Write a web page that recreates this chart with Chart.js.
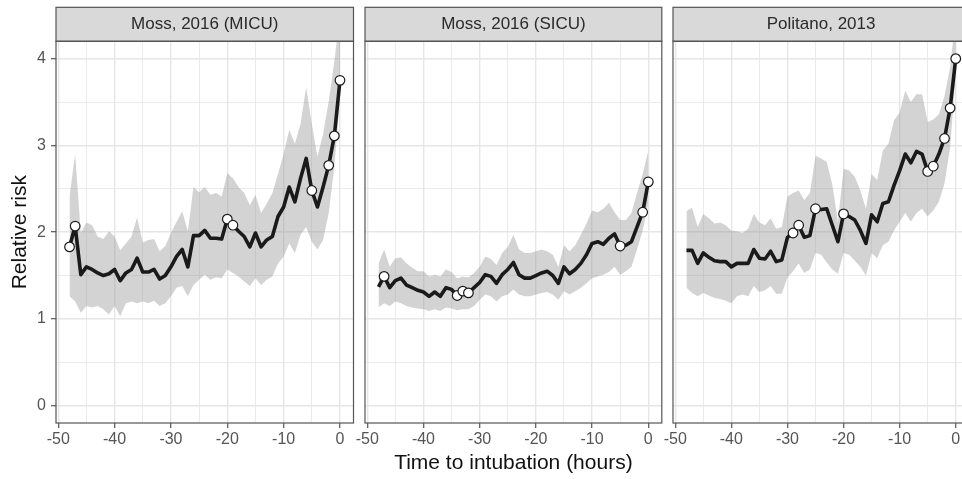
<!DOCTYPE html>
<html><head><meta charset="utf-8">
<script src="https://cdn.jsdelivr.net/npm/chart.js@4.4.1/dist/chart.umd.min.js"></script>
<style>
html,body{margin:0;padding:0;background:#fff;overflow:hidden;width:962px;height:479px;position:relative}
canvas.c{position:absolute;left:0;top:0;pointer-events:none}
</style></head><body>
<canvas id="c1" class="c" width="1000" height="479"></canvas>
<canvas id="c2" class="c" width="1000" height="479"></canvas>
<canvas id="c3" class="c" width="1000" height="479"></canvas>
<script>
// ---------- data ----------
const hours = [-48,-47,-46,-45,-44,-43,-42,-41,-40,-39,-38,-37,-36,-35,-34,-33,-32,-31,-30,-29,-28,-27,-26,-25,-24,-23,-22,-21,-20,-19,-18,-17,-16,-15,-14,-13,-12,-11,-10,-9,-8,-7,-6,-5,-4,-3,-2,-1,0];

const micuRR = [1.83,2.07,1.51,1.60,1.57,1.53,1.50,1.52,1.57,1.44,1.53,1.57,1.70,1.54,1.54,1.57,1.46,1.50,1.60,1.72,1.80,1.60,1.96,1.96,2.02,1.93,1.93,1.92,2.15,2.08,2.01,1.95,1.83,1.99,1.83,1.91,1.95,2.18,2.29,2.52,2.35,2.62,2.85,2.48,2.29,2.52,2.77,3.11,3.75];
const micuLo = [1.26,1.20,1.07,1.15,1.13,1.15,1.11,1.05,1.15,1.03,1.18,1.20,1.18,1.20,1.18,1.21,1.15,1.18,1.26,1.36,1.38,1.26,1.39,1.45,1.51,1.45,1.48,1.47,1.57,1.53,1.49,1.43,1.38,1.47,1.39,1.45,1.49,1.64,1.72,1.87,1.76,1.97,2.06,1.89,1.80,1.91,2.22,2.75,3.55];
const micuHi = [2.41,2.90,1.99,2.11,2.08,1.95,1.92,2.01,1.95,1.79,1.87,1.95,2.17,1.88,1.91,1.92,1.78,1.84,1.99,2.12,2.24,2.01,2.52,2.46,2.52,2.43,2.45,2.41,2.68,2.62,2.52,2.45,2.31,2.43,2.22,2.33,2.45,2.67,2.90,3.18,3.02,3.25,3.67,3.25,2.87,3.13,3.51,3.97,4.50];
const micuMarked = [-48,-47,-20,-19,-5,-2,-1,0];

const sicuRR = [1.37,1.49,1.36,1.44,1.47,1.39,1.36,1.33,1.31,1.26,1.31,1.26,1.36,1.34,1.27,1.32,1.30,1.36,1.42,1.51,1.49,1.41,1.51,1.57,1.65,1.51,1.47,1.47,1.50,1.53,1.55,1.50,1.41,1.60,1.52,1.57,1.64,1.74,1.87,1.89,1.86,1.93,1.98,1.84,1.85,1.89,2.06,2.23,2.58];
const sicuLo = [1.13,1.18,1.15,1.20,1.18,1.15,1.13,1.12,1.11,1.09,1.11,1.09,1.13,1.12,1.10,1.11,1.11,1.15,1.22,1.28,1.26,1.20,1.26,1.28,1.34,1.28,1.26,1.26,1.28,1.30,1.31,1.28,1.22,1.32,1.28,1.32,1.36,1.41,1.47,1.49,1.51,1.54,1.60,1.51,1.55,1.60,1.80,2.02,2.33];
const sicuHi = [1.64,1.80,1.60,1.70,1.71,1.64,1.59,1.55,1.55,1.49,1.51,1.49,1.57,1.54,1.47,1.49,1.48,1.53,1.60,1.72,1.69,1.62,1.76,1.83,1.97,1.80,1.76,1.76,1.78,1.80,1.78,1.74,1.60,1.85,1.78,1.85,1.97,2.10,2.25,2.23,2.27,2.34,2.23,2.14,2.14,2.22,2.45,2.67,2.94];
const sicuMarked = [-47,-34,-33,-32,-5,-1,0];

const politRR = [1.79,1.79,1.64,1.76,1.71,1.67,1.66,1.66,1.60,1.64,1.64,1.64,1.80,1.70,1.69,1.78,1.66,1.68,1.94,1.99,2.08,1.94,1.96,2.27,2.26,2.27,2.08,1.89,2.21,2.18,2.14,2.02,1.87,2.20,2.12,2.33,2.35,2.54,2.71,2.90,2.80,2.93,2.90,2.70,2.76,2.90,3.08,3.43,4.00];
const politLo = [1.36,1.30,1.26,1.30,1.27,1.24,1.23,1.21,1.18,1.26,1.28,1.26,1.38,1.31,1.33,1.38,1.29,1.29,1.48,1.55,1.64,1.53,1.57,1.76,1.74,1.65,1.57,1.52,1.76,1.74,1.67,1.60,1.50,1.76,1.70,1.85,1.89,2.02,2.12,2.22,2.12,2.22,2.27,2.18,2.25,2.35,2.56,2.98,3.82];
const politHi = [2.24,2.28,2.06,2.21,2.16,2.10,2.11,2.08,2.02,2.01,1.99,2.04,2.21,2.11,2.08,2.16,2.04,2.06,2.41,2.45,2.48,2.37,2.45,2.88,2.85,2.81,2.55,2.12,2.73,2.71,2.64,2.48,2.27,2.67,2.60,2.94,3.02,3.29,3.38,3.63,3.50,3.59,3.59,3.27,3.30,3.36,3.57,3.90,4.50];
const politMarked = [-29,-28,-25,-20,-5,-4,-2,-1,0];

const panelTitles = ['Moss, 2016 (MICU)','Moss, 2016 (SICU)','Politano, 2013'];
const xTicks = [-50,-45,-40,-35,-30,-25,-20,-15,-10,-5,0];
const xTickLabels = [-50,-40,-30,-20,-10,0];
const yTicks = [0,0.5,1,1.5,2,2.5,3,3.5,4];
const yTickLabels = [0,1,2,3,4];
const xTitle = 'Time to intubation (hours)';
const yTitle = 'Relative risk';

// ---------- layout / style ----------
Chart.defaults.font.family = '"Liberation Sans", Arial, Helvetica, sans-serif';
const W = 1000;
const layouts = [
  {id:'c1', left:56.0, right:353.5, showY:true,  showXTitle:false},
  {id:'c2', left:365.0, right:661.8, showY:false, showXTitle:true},
  {id:'c3', left:673.0, right:969.2, showY:false, showXTitle:false}
];
const series = [
  {rr:micuRR, lo:micuLo, hi:micuHi, marked:micuMarked},
  {rr:sicuRR, lo:sicuLo, hi:sicuHi, marked:sicuMarked},
  {rr:politRR, lo:politLo, hi:politHi, marked:politMarked}
];
const STRIP_TOP = 7.3, PANEL_TOP = 41.3, AXIS_H = 56;

const facetPlugin = {
  id:'facet',
  afterDraw(chart, args, opts){
    const {ctx, chartArea:a} = chart;
    ctx.save();
    ctx.fillStyle = '#d9d9d9';
    ctx.fillRect(a.left, STRIP_TOP, a.right-a.left, a.top-STRIP_TOP);
    ctx.strokeStyle = '#555';
    ctx.lineWidth = 1.2;
    ctx.strokeRect(a.left, STRIP_TOP, a.right-a.left, a.top-STRIP_TOP);
    ctx.strokeRect(a.left, a.top, a.right-a.left, a.bottom-a.top);
    ctx.fillStyle = '#2a2a2a';
    ctx.font = '17px "Liberation Sans", Arial, sans-serif';
    ctx.textAlign = 'center';
    ctx.textBaseline = 'middle';
    ctx.fillText(opts.title, (a.left+a.right)/2, (STRIP_TOP+a.top)/2 + 0.5);
    ctx.restore();
  }
};

const gridColor = '#e6e6e6';
layouts.forEach((L, k) => {
  const s = series[k];
  const pts = arr => hours.map((h,i)=>({x:h, y:arr[i]}));
  new Chart(document.getElementById(L.id), {
    type:'line',
    data:{datasets:[
      {label:'marked', data:s.marked.map(h=>({x:h, y:s.rr[hours.indexOf(h)]})), showLine:false,
       pointRadius:4.8, pointBackgroundColor:'#fff', pointBorderColor:'#1a1a1a', pointBorderWidth:1.2,
       order:0, clip:false},
      {label:'rr', data:pts(s.rr), borderColor:'#1a1a1a', borderWidth:3.6, pointRadius:0,
       borderJoinStyle:'round', fill:false, order:1, tension:0},
      {label:'lo', data:pts(s.lo), borderColor:'rgba(0,0,0,0)', borderWidth:0, pointRadius:0, fill:false, order:2},
      {label:'hi', data:pts(s.hi), borderColor:'rgba(0,0,0,0)', borderWidth:0, pointRadius:0, fill:'-1',
       backgroundColor:'rgba(150,150,150,0.42)', order:2}
    ]},
    options:{
      responsive:false, animation:false, devicePixelRatio:1,
      layout:{padding:{left: L.showY ? 0 : L.left, right: W - L.right, top: PANEL_TOP, bottom: 0}},
      plugins:{legend:{display:false}, tooltip:{enabled:false}, facet:{title:panelTitles[k]}},
      scales:{
        x:{type:'linear', min:-50.4, max:2.4,
           afterBuildTicks: sc => { sc.ticks = xTicks.map(v=>({value:v})); },
           afterFit: sc => { sc.height = AXIS_H; },
           border:{display:false},
           ticks:{autoSkip:false, maxRotation:0, minRotation:0, padding:2, color:'#555', font:{size:16},
                  callback: v => xTickLabels.includes(v) ? String(v) : ''},
           grid:{color:gridColor,
                 lineWidth: c => (c.tick && xTickLabels.includes(c.tick.value)) ? 1.4 : 0.8,
                 tickLength:5, tickWidth:1.2,
                 tickColor: c => (c.tick && xTickLabels.includes(c.tick.value)) ? '#555' : 'rgba(0,0,0,0)'},
           title:{display:L.showXTitle, text:xTitle, color:'#111', font:{size:21}, padding:{top:0, bottom:3.4}}
        },
        y:{type:'linear', min:-0.2, max:4.2,
           afterBuildTicks: sc => { sc.ticks = yTicks.map(v=>({value:v})); },
           afterFit: sc => { sc.width = L.showY ? L.left : 0; },
           border:{display:false},
           ticks:{display:L.showY, padding:5, color:'#555', font:{size:16},
                  callback: v => yTickLabels.includes(v) ? String(v) : ''},
           grid:{color:gridColor,
                 lineWidth: c => (c.tick && yTickLabels.includes(c.tick.value)) ? 1.4 : 0.8,
                 drawTicks:L.showY, tickLength:L.showY ? 5 : 0, tickWidth:1.2,
                 tickColor: c => (c.tick && yTickLabels.includes(c.tick.value)) ? '#555' : 'rgba(0,0,0,0)'},
           title:{display:L.showY, text:yTitle, color:'#111', font:{size:21}, padding:{top:7.4, bottom:0}}
        }
      }
    },
    plugins:[facetPlugin]
  });
});
</script>
</body></html>
